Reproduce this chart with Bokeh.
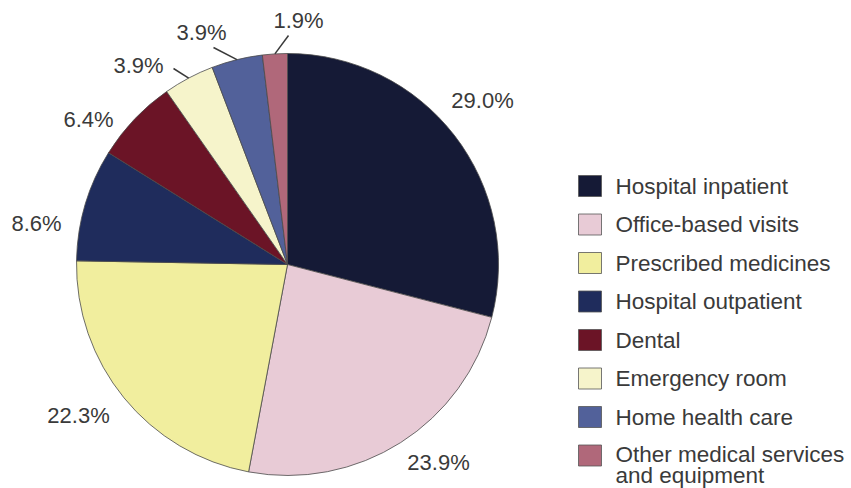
import numpy as np
from bokeh.plotting import figure
from bokeh.models import Range1d, ColumnDataSource
from bokeh.core.properties import value
from bokeh.embed import file_html
from bokeh.resources import INLINE

categories = ["Hospital inpatient", "Office-based visits", "Prescribed medicines",
              "Hospital outpatient", "Dental", "Emergency room", "Home health care",
              "Other medical services\nand equipment"]
shares = [29.0, 23.9, 22.3, 8.6, 6.4, 3.9, 3.9, 1.9]
labels = ["29.0%", "23.9%", "22.3%", "8.6%", "6.4%", "3.9%", "3.9%", "1.9%"]
colors = ["#151a36", "#e8cbd6", "#f1ee9e", "#1f2c5c", "#6b1426", "#f6f4cb", "#52619a", "#b0687a"]

# label anchor positions (page pixels) and leader-line outer ends
label_pos = [(482, 100), (438, 462), (78, 415), (36, 223), (88, 119), (138, 65), (201, 32), (298, 20)]
leader_end = [None, None, None, None, None, (173, 68), (213, 47), (288, 35)]

W, H = 851, 488
def X(px): return px
def Y(py): return H - py

cx, cy, R = X(287), Y(264), 211

p = figure(width=W, height=H, output_backend="svg", toolbar_location=None,
           x_range=Range1d(0, W), y_range=Range1d(0, H), min_border=0)
p.axis.visible = False
p.grid.visible = False
p.outline_line_color = None
p.background_fill_color = "white"
p.border_fill_color = "white"

vals = np.array(shares)
frac = vals / vals.sum()
cum = np.concatenate([[0], np.cumsum(frac)])
start = np.pi / 2 - cum[:-1] * 2 * np.pi
end = np.pi / 2 - cum[1:] * 2 * np.pi
mid = (start + end) / 2

src = ColumnDataSource(dict(start=start, end=end, color=colors))
p.wedge(x=cx, y=cy, radius=R, start_angle="start", end_angle="end", direction="clock",
        fill_color="color", line_color="#4a4a4a", line_width=0.8, source=src)

# leader lines
for i, e in enumerate(leader_end):
    if e is None:
        continue
    x0 = cx + R * np.cos(mid[i])
    y0 = cy + R * np.sin(mid[i])
    p.line([x0, X(e[0])], [y0, Y(e[1])], line_color="#3a3a3a", line_width=1.5)

p.text(x=[X(a) for a, b in label_pos], y=[Y(b) for a, b in label_pos], text=labels,
       text_font=value("Liberation Sans"), text_font_size="22px", text_color="#3a3a3a",
       text_align="center", text_baseline="middle")

# legend
n = len(categories)
fs = 22.5
lh = 0.85
ly = [Y(185.5 + i * 38.5) for i in range(n)]
yoff = [(c.count("\n")) * 0.5 * lh * fs for c in categories]
p.rect(x=[X(589.5)] * n, y=ly, width=23, height=21, fill_color=colors,
       line_color="#555555", line_width=0.8)
lsrc = ColumnDataSource(dict(x=[X(615)] * n, y=ly, text=categories, yoff=yoff))
p.text(x="x", y="y", text="text", y_offset="yoff", source=lsrc,
       text_font=value("Liberation Sans"), text_font_size=f"{fs}px", text_color="#3a3a3a",
       text_align="left", text_baseline="middle", text_line_height=lh)

open("out.html", "w").write(file_html(p, INLINE))
